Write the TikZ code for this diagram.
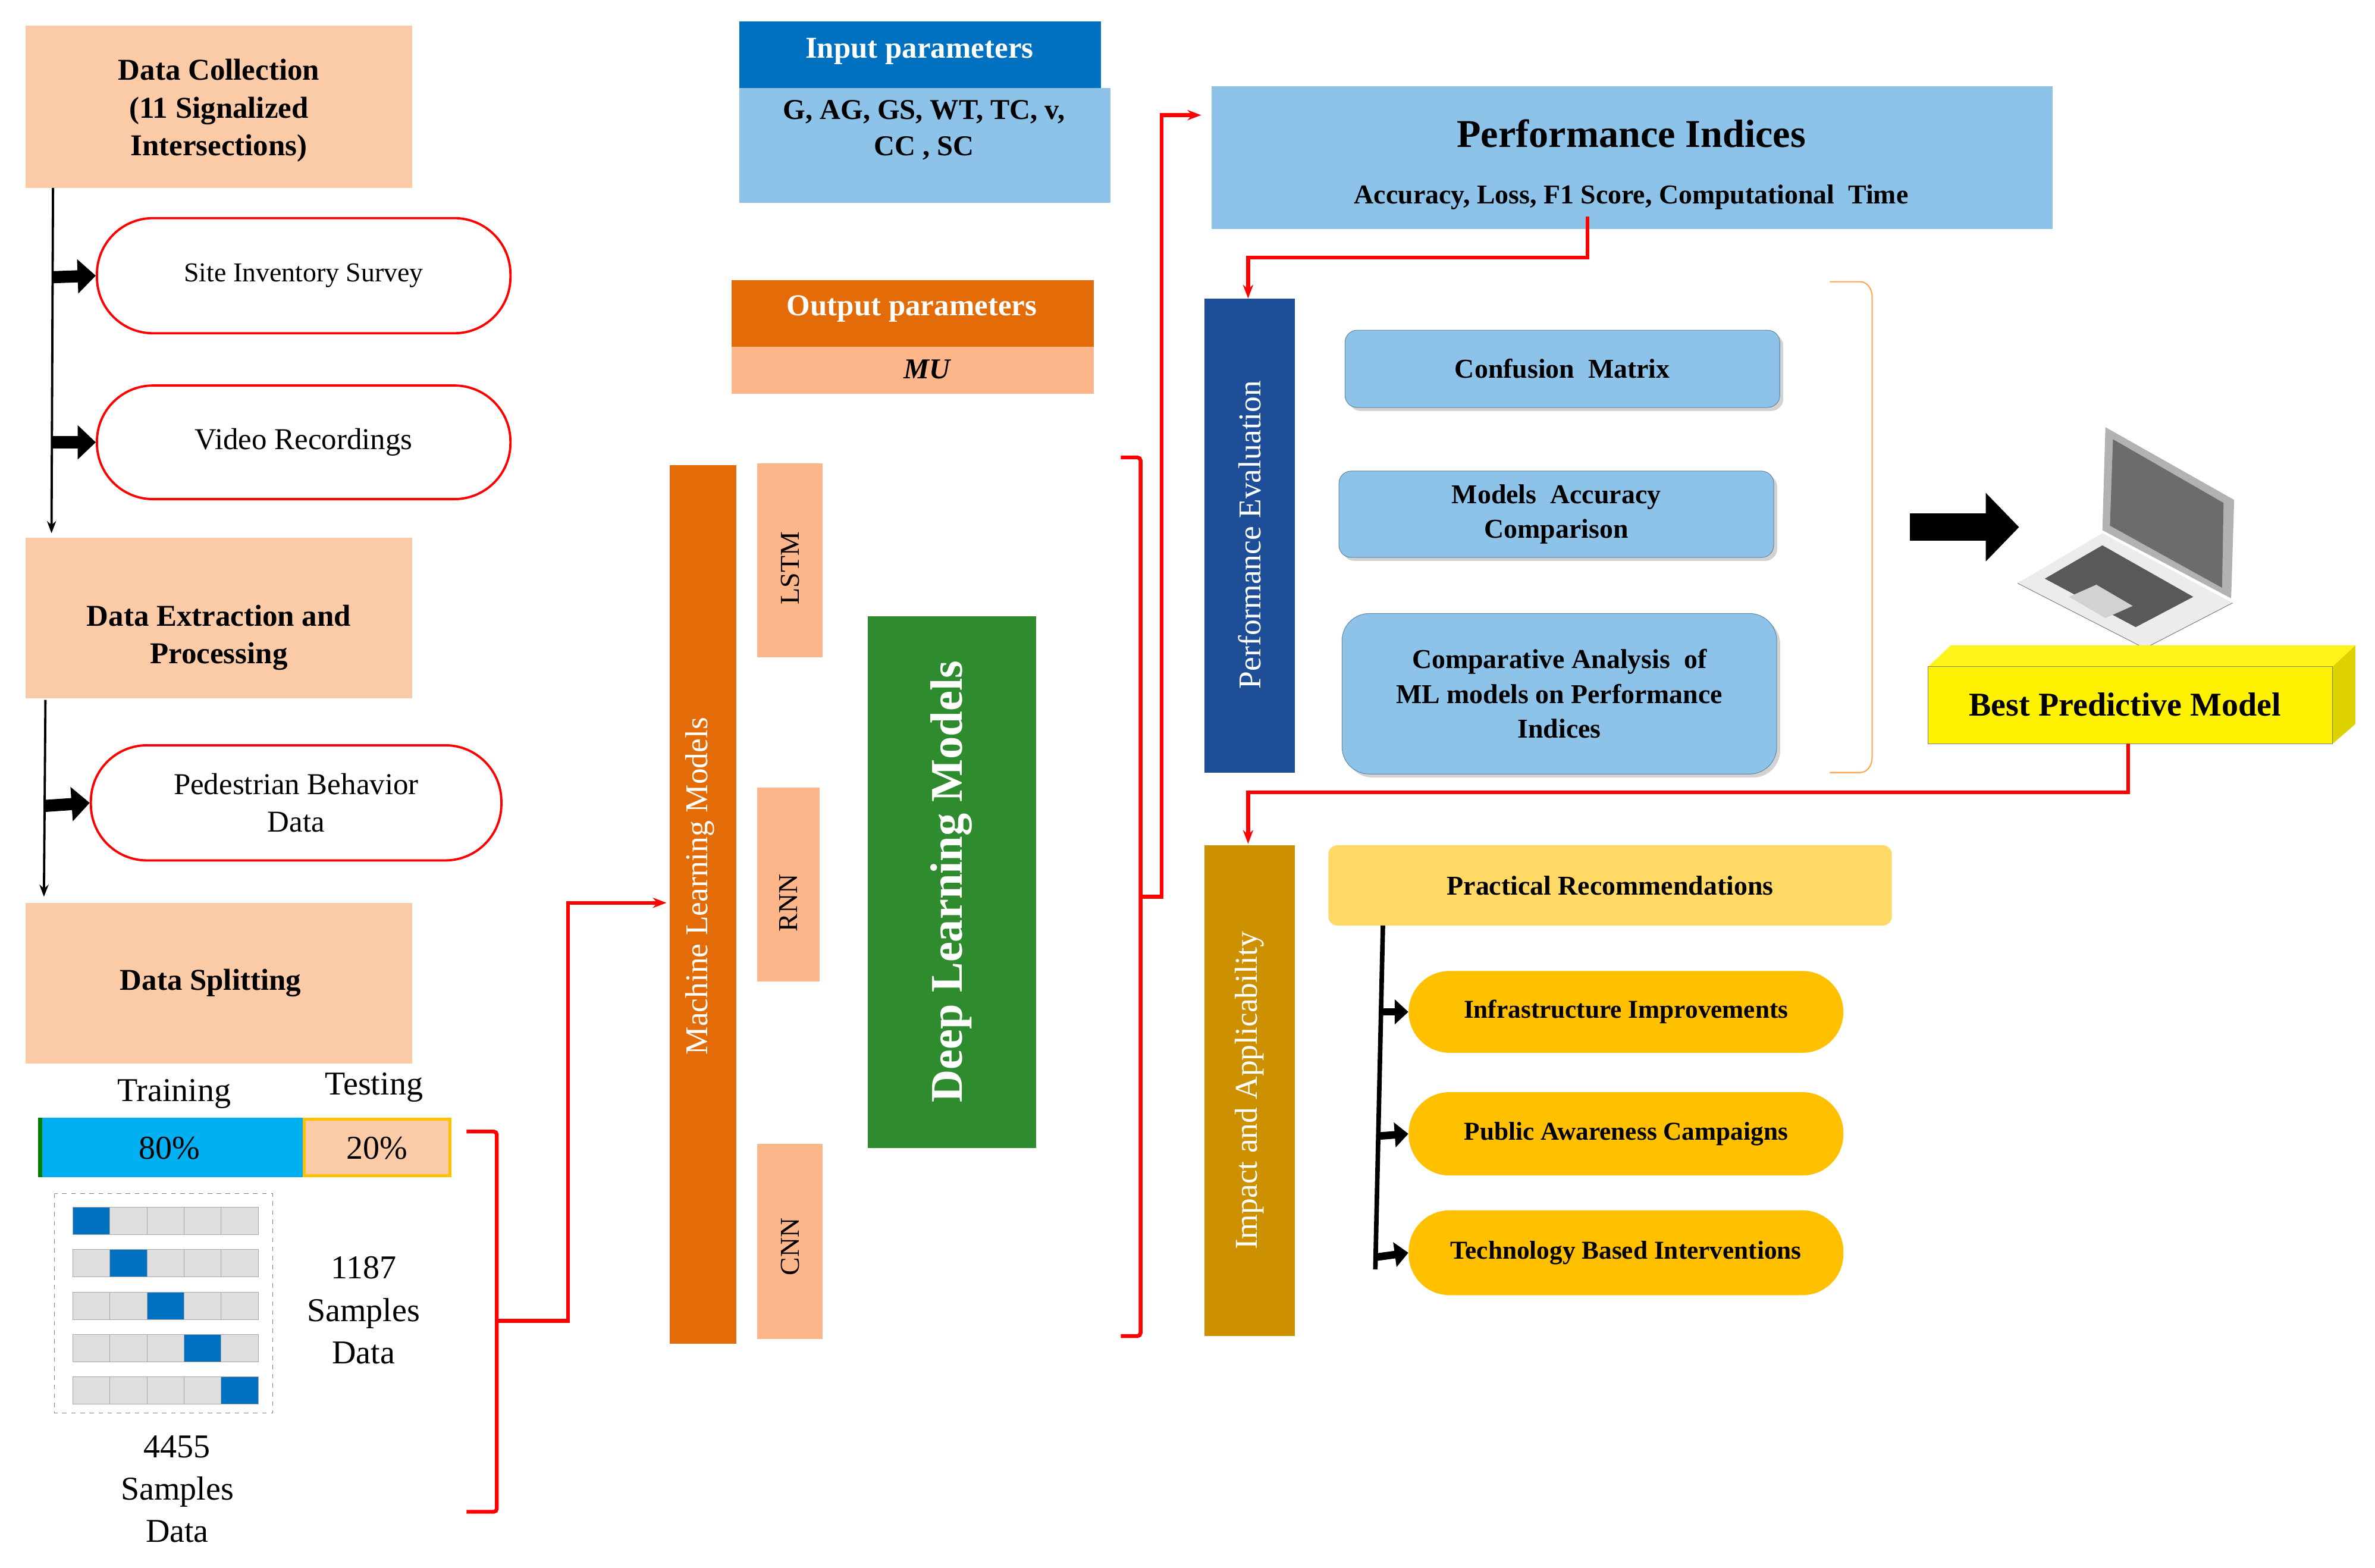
\documentclass[tikz,border=0pt]{standalone}
\usepackage{fontspec}
\setmainfont{Liberation Serif}
\usetikzlibrary{arrows.meta,shadows}
\definecolor{peach}{HTML}{FBCBA8}
\definecolor{lblue}{HTML}{8DC3E8}
\definecolor{dblue}{HTML}{0070C0}
\definecolor{orng}{HTML}{E36C09}
\definecolor{lpeach}{HTML}{FCB68A}
\definecolor{dgreen}{HTML}{2E8B2E}
\definecolor{navy}{HTML}{1F4E99}
\definecolor{gold}{HTML}{CC9000}
\definecolor{amber}{HTML}{FFC000}
\definecolor{lyel}{HTML}{FFD966}
\definecolor{cyanb}{HTML}{00B0F0}
\tikzset{
 box/.style={draw=none,inner sep=0pt,align=center,font=\bfseries\fontsize{20}{25}\selectfont},
 pill/.style={draw=red,line width=1.5pt,rounded corners=37pt,align=center,font=\fontsize{20}{25}\selectfont},
 rbox/.style={draw=lblue!70!black,fill=lblue,rounded corners=8pt,align=center,font=\bfseries\fontsize{18}{23}\selectfont,drop shadow={opacity=0.35}},
 oval/.style={fill=amber,rounded corners=27pt,align=center,font=\bfseries\fontsize{17}{20}\selectfont},
 red/.style={draw=red,line width=2.5pt},
 fatarr/.style={-{Triangle[length=12pt,width=22pt]},line width=8pt},
 cell/.style={draw=gray!70,fill=gray!25,minimum width=24.5pt,minimum height=18pt,inner sep=0pt},
 bcell/.style={cell,fill=dblue},
}
\begin{document}
\begin{tikzpicture}[x=1pt,y=-1pt]
\useasboundingbox (0,0) rectangle (1568,1035);
\fill[white] (0,0) rectangle (1568,1035);
% left column boxes
\fill[peach] (17,17) rectangle (272,124); \node[box] (dc) at (144.5,73) {Data Collection\\(11 Signalized\\Intersections)};
\fill[peach] (17,355) rectangle (272,461); \node[box] (de) at (144.5,421) {Data Extraction and\\Processing};
\fill[peach] (17,596) rectangle (272,702); \node[box] (ds) at (139,649) {Data Splitting};
\node[pill,minimum width=273pt,minimum height=76pt] (sis) at (200.5,182) {\fontsize{18}{20}\selectfont Site Inventory Survey};
\node[pill,minimum width=273pt,minimum height=75pt] (vr) at (200.5,292) {Video Recordings};
\node[pill,minimum width=271pt,minimum height=76pt] (pbd) at (195.5,530) {Pedestrian Behavior\\Data};
\coordinate (l1a) at (35,124); \coordinate (l1b) at (34,352);
\draw[line width=1.5pt,-{Stealth[length=8pt]}] (l1a) -- (l1b);
\coordinate (l2a) at (30,462); \coordinate (l2b) at (29,592);
\draw[line width=1.5pt,-{Stealth[length=8pt]}] (l2a) -- (l2b);
\draw[fatarr] (35,183) -- (sis.west);
\draw[fatarr] (35,292) -- (vr.west);
\draw[fatarr] (30,532) -- (pbd.west);
% split bar
\node[font=\fontsize{22}{24}\selectfont] (tr) at (115,722) {Training};
\node[font=\fontsize{22}{24}\selectfont] (te) at (247,718) {Testing};
\fill[cyanb] (25,738) rectangle (200,777); \fill[green!50!black] (25,738) rectangle (28,777);
\node[font=\fontsize{22}{24}\selectfont] (p80) at (112,758) {80\%};
\draw[fill=peach,draw=amber,line width=2pt] (201,739) rectangle (297,776);
\node[font=\fontsize{22}{24}\selectfont] (p20) at (249,758) {20\%};
\draw[dashed,gray] (36,788) rectangle (180,933);
\foreach \r in {0,...,4}{\foreach \c in {0,...,4}{
 \ifnum\r=\c \node[bcell] at (60.25+24.5*\c,806+28*\r) {};\else \node[cell] at (60.25+24.5*\c,806+28*\r) {};\fi}}
\node[align=center,font=\fontsize{22}{28}\selectfont] (s1187) at (240,865) {1187\\Samples\\Data};
\node[align=center,font=\fontsize{22}{28}\selectfont] (s4455) at (117,983) {4455\\Samples\\Data};
% bracket 1
\coordinate (b1a) at (308,747); \coordinate (b1b) at (308,998);
\draw[red,rounded corners=2pt] (b1a) -- (328,747) -- (328,998) -- (b1b);
\coordinate (b1m) at (328,872);
% params
\fill[dblue] (488,14) rectangle (727,58); \node[box,text=white] (ip) at (607,34) {Input parameters};
\fill[lblue] (488,58) rectangle (733,134); \node[box,font=\bfseries\fontsize{19}{24}\selectfont] (ipv) at (610,86) {G, AG, GS, WT, TC, v,\\CC , SC};
\fill[orng] (483,185) rectangle (722,229); \node[box,text=white] (op) at (602,204) {Output parameters};
\fill[lpeach] (483,229) rectangle (722,260); \node[box,font=\bfseries\itshape\fontsize{19}{22}\selectfont] (mu) at (612,244) {MU};
% ML models
\fill[orng] (442,307) rectangle (486,887); \node[box,text=white,rotate=90,font=\fontsize{21}{24}\selectfont] (ml) at (462,585) {Machine Learning Models};
\coordinate (mlin) at (440,596);
\draw[red,-{Stealth[length=9pt]}] (b1m) -- (375,872) -- (375,596) -- (mlin);
\fill[lpeach] (500,306) rectangle (543,434); \node[rotate=90,font=\fontsize{18}{20}\selectfont] (lstm) at (521.5,375) {LSTM};
\fill[lpeach] (500,520) rectangle (541,648); \node[rotate=90,font=\fontsize{18}{20}\selectfont] (rnn) at (520.5,596) {RNN};
\fill[lpeach] (500,755) rectangle (543,884); \node[rotate=90,font=\fontsize{18}{20}\selectfont] (cnn) at (521.5,823) {CNN};
\fill[dgreen] (573,407) rectangle (684,758); \node[box,text=white,rotate=90,font=\bfseries\fontsize{30}{34}\selectfont] (dl) at (628,582) {Deep Learning Models};
% bracket 2
\coordinate (b2a) at (740,302); \coordinate (b2b) at (740,882);
\draw[red,rounded corners=2pt] (b2a) -- (753,302) -- (753,882) -- (b2b);
\coordinate (b2m) at (753,592);
\fill[lblue] (800,57) rectangle (1355,151);
\node[box,font=\bfseries\fontsize{26}{30}\selectfont] (pi) at (1077,88) {Performance Indices};
\node[box,font=\bfseries\fontsize{18}{20}\selectfont] (pis) at (1077,130) {Accuracy, Loss, F1 Score, Computational \ Time};
\coordinate (piin) at (793,76);
\draw[red,-{Stealth[length=9pt]}] (b2m) -- (767,592) -- (767,76) -- (piin);
\coordinate (pib) at (1048,143);
\fill[navy] (795,197) rectangle (855,510); \node[box,text=white,rotate=90,font=\fontsize{21}{24}\selectfont] (pe) at (825,353) {Performance Evaluation};
\coordinate (petop) at (824,197);
\draw[red,-{Stealth[length=9pt]}] (pib) -- (1048,170) -- (824,170) -- (petop);
\node[rbox,minimum width=287pt,minimum height=51pt] (cm) at (1031.5,243.5) {Confusion \ Matrix};
\node[rbox,minimum width=287pt,minimum height=57pt] (mac) at (1027.5,339.5) {Models \ Accuracy\\Comparison};
\node[rbox,minimum width=287pt,minimum height=106pt,rounded corners=18pt] (ca) at (1029.5,458) {Comparative Analysis \ of\\ML models on Performance\\Indices};
\draw[orange!70,line width=0.8pt] (1208,186) -- (1228,186) to[out=0,in=90] (1236,196) -- (1236,500) to[out=-90,in=0] (1228,510) -- (1208,510);
\draw[fatarr,line width=18pt,-{Triangle[length=22pt,width=44pt]}] (1261,348) -- (1333,348);
% laptop
\fill[gray!60] (1390,282) -- (1475,330) -- (1473,395) -- (1388,350) -- cycle;
\fill[gray!85!black] (1395,290) -- (1468,332) -- (1467,388) -- (1393,347) -- cycle;
\fill[gray!15] (1332,385) -- (1388,352) -- (1474,398) -- (1416,428) -- cycle;
\fill[gray!70!black] (1350,382) -- (1388,360) -- (1448,394) -- (1410,414) -- cycle;
\fill[gray!35] (1366,394) -- (1384,386) -- (1408,400) -- (1390,408) -- cycle;
\draw[gray] (1332,385) -- (1416,428) -- (1474,398);
% best predictive
\fill[yellow!70!olive] (1540,440) -- (1555,426) -- (1555,478) -- (1540,491) -- cycle;
\fill[yellow!90!white] (1273,440) -- (1288,426) -- (1555,426) -- (1540,440) -- cycle;
\fill[yellow] (1273,440) rectangle (1540,491);
\draw[gray,line width=0.5pt] (1273,440) rectangle (1540,491);
\node[box,font=\bfseries\fontsize{22}{25}\selectfont] (bpm) at (1403,465) {Best Predictive Model};
\fill[gold] (795,558) rectangle (855,882); \node[box,text=white,rotate=90,font=\fontsize{21}{24}\selectfont] (ia) at (825,720) {Impact and Applicability};
\coordinate (bpmb) at (1405,491); \coordinate (iatop) at (824,557);
\draw[red,-{Stealth[length=9pt]}] (bpmb) -- (1405,523) -- (824,523) -- (iatop);
\node[fill=lyel,rounded corners=6pt,minimum width=372pt,minimum height=53pt,font=\bfseries\fontsize{18}{20}\selectfont] (prc) at (1063,584.5) {Practical Recommendations};
\node[oval,minimum width=287pt,minimum height=54pt] (inf) at (1073.5,668) {Infrastructure Improvements};
\node[oval,minimum width=287pt,minimum height=55pt] (pac) at (1073.5,748.5) {Public Awareness Campaigns};
\node[oval,minimum width=287pt,minimum height=56pt] (tbi) at (1073.5,827) {Technology Based Interventions};
\coordinate (v1) at (913,611); \coordinate (v2) at (908,838);
\draw[line width=3pt] (v1) -- (v2);
\draw[fatarr,line width=5pt,-{Triangle[length=9pt,width=16pt]}] (912,668) -- (inf.west);
\draw[fatarr,line width=5pt,-{Triangle[length=9pt,width=16pt]}] (910,750) -- (pac.west);
\draw[fatarr,line width=5pt,-{Triangle[length=9pt,width=16pt]}] (908,830) -- (tbi.west);
\end{tikzpicture}
\end{document}
